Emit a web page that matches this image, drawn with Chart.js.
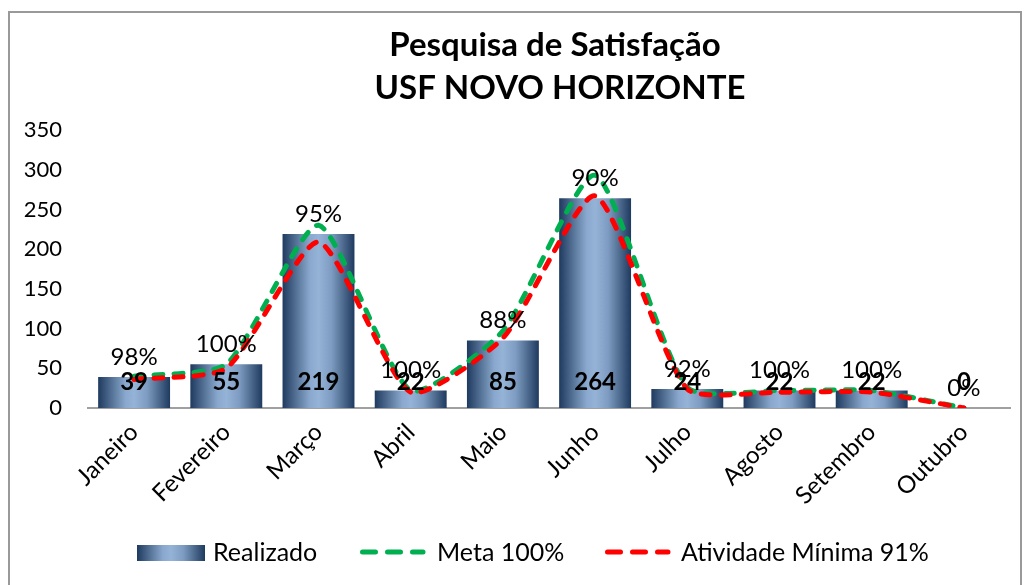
<!DOCTYPE html>
<html>
<head>
<meta charset="utf-8">
<script src="https://cdn.jsdelivr.net/npm/chart.js@4"></script>
<style>
  html, body { margin: 0; padding: 0; background: #fff; }
  #wrap { width: 1027px; height: 585px; }
</style>
</head>
<body>
<div id="wrap"><canvas id="graficoSatisfacao"></canvas></div>
<script>
// dados
const meses = ['Janeiro', 'Fevereiro', 'Março', 'Abril', 'Maio', 'Junho', 'Julho', 'Agosto', 'Setembro', 'Outubro'];
const realizado = [39, 55, 219, 22, 85, 264, 24, 22, 22, 0];
const meta100 = [40, 55, 230, 22, 97, 293, 26, 22, 22, 0];
const atividadeMinima = [36, 50, 209, 20, 88, 267, 24, 20, 20, 0];
const percentuais = ['98%', '100%', '95%', '100%', '88%', '90%', '92%', '100%', '100%', '0%'];
const titulo = ['Pesquisa de Satisfação', 'USF NOVO HORIZONTE'];

const FONTE = 'Lato, "Liberation Sans", sans-serif';

function gradienteBarra(ctx, x0, x1) {
    const g = ctx.createLinearGradient(x0, 0, x1, 0);
    g.addColorStop(0, '#1f3a5f');
    g.addColorStop(0.38, '#8aa8cd');
    g.addColorStop(0.5, '#95b3d7');
    g.addColorStop(0.68, '#7e9cc1');
    g.addColorStop(1, '#1f3a5f');
    return g;
}

// titulo, rotulos, legenda e moldura desenhados por cima
const extras = {
    id: 'extras',
    afterDraw(chart) {
        const { ctx, scales: { x, y } } = chart;
        ctx.save();
        ctx.fillStyle = '#000';
        ctx.textAlign = 'center';
        ctx.textBaseline = 'middle';

        ctx.font = 'bold 33px ' + FONTE;
        ctx.fillText(titulo[0], 555, 45);
        ctx.fillText(titulo[1], 560, 88);

        const base = y.getPixelForValue(0);
        realizado.forEach((v, i) => {
            const px = x.getPixelForValue(i);
            ctx.font = 'bold 24px ' + FONTE;
            ctx.fillText(String(v), px, base - 26);
            ctx.font = '24px ' + FONTE;
            ctx.fillText(percentuais[i], px, y.getPixelForValue(v) - 20);
        });

        // legenda
        const ly = 553;
        ctx.fillStyle = gradienteBarra(ctx, 137, 205);
        ctx.fillRect(137, 545, 68, 16);
        ctx.fillStyle = '#000';
        ctx.textAlign = 'left';
        ctx.font = '25px ' + FONTE;
        const ds = chart.data.datasets;
        ctx.fillText(ds[0].label, 213, ly);

        [[ds[1], 360, 437], [ds[2], 605, 681]].forEach(([d, x0, tx]) => {
            ctx.save();
            ctx.strokeStyle = d.borderColor;
            ctx.lineWidth = 5;
            ctx.lineCap = 'round';
            ctx.setLineDash([13, 12]);
            ctx.beginPath();
            ctx.moveTo(x0 + 2.5, ly - 1);
            ctx.lineTo(x0 + 63, ly - 1);
            ctx.stroke();
            ctx.restore();
            ctx.fillText(d.label, tx, ly);
        });

        // moldura
        ctx.strokeStyle = '#999';
        ctx.lineWidth = 2;
        ctx.strokeRect(9, 12, 1012, 600);
        ctx.restore();
    }
};

const canvas = document.getElementById('graficoSatisfacao');
const ctx = canvas.getContext('2d');

new Chart(ctx, {
    data: {
        labels: meses,
        datasets: [{
            type: 'bar',
            label: 'Realizado',
            data: realizado,
            order: 3,
            categoryPercentage: 1,
            barPercentage: 0.78,
            backgroundColor: function (c) {
                const chart = c.chart;
                const sx = chart.scales.x;
                if (!chart.chartArea || !sx || c.dataIndex === undefined) return '#95b3d7';
                const cx = sx.getPixelForValue(c.dataIndex);
                const w = sx.width / meses.length * 0.78;
                return gradienteBarra(chart.ctx, cx - w / 2, cx + w / 2);
            }
        }, {
            type: 'line',
            label: 'Meta 100%',
            data: meta100,
            order: 2,
            borderColor: '#00b050',
            borderWidth: 5,
            borderDash: [9, 11],
            borderCapStyle: 'round',
            pointRadius: 0,
            tension: 0.2,
            fill: false
        }, {
            type: 'line',
            label: 'Atividade Mínima 91%',
            data: atividadeMinima,
            order: 1,
            borderColor: '#ff0000',
            borderWidth: 5,
            borderDash: [9, 11],
            borderCapStyle: 'round',
            pointRadius: 0,
            tension: 0.2,
            fill: false
        }]
    },
    options: {
        responsive: true,
        maintainAspectRatio: false,
        animation: false,
        layout: {
            padding: { top: 130, right: 17, bottom: 0, left: 0 }
        },
        scales: {
            x: {
                grid: { display: false, drawTicks: false },
                border: { display: true, color: '#a0a0a0', width: 2 },
                ticks: {
                    autoSkip: false,
                    maxRotation: 45,
                    minRotation: 45,
                    padding: 10,
                    color: '#000',
                    font: { family: FONTE, size: 24 }
                },
                afterFit: (s) => { s.height = 585 - 408; }
            },
            y: {
                min: 0,
                max: 350,
                grid: { display: false, drawTicks: false },
                border: { display: false },
                ticks: {
                    stepSize: 50,
                    padding: 26,
                    color: '#000',
                    font: { family: FONTE, size: 22 }
                },
                afterFit: (s) => { s.width = 88; }
            }
        },
        plugins: {
            legend: { display: false },
            title: { display: false },
            tooltip: { enabled: true }
        }
    },
    plugins: [extras]
});
</script>
</body>
</html>
